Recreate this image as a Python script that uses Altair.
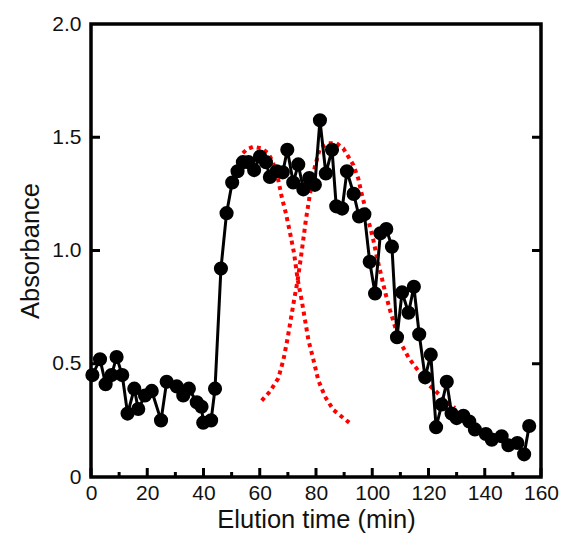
import altair as alt
import pandas as pd

# measured data (Elution time in min, absorbance)
time_min = [0.5, 3.2, 5.2, 7.3, 9.1, 11.1, 13.0, 15.4, 16.8, 19.2, 21.6, 24.9, 26.9, 30.5,
            32.8, 34.8, 37.6, 39.3, 39.9, 42.7, 44.1, 46.2, 48.2, 50.2, 52.1, 54.0, 56.0,
            58.0, 60.1, 62.2, 63.6, 66.0, 68.2, 69.8, 71.9, 73.7, 75.5, 77.6, 79.6, 81.4,
            83.5, 85.7, 87.2, 89.3, 91.0, 93.4, 95.3, 97.2, 99.1, 101.0, 102.9, 105.0,
            107.0, 108.8, 110.6, 112.9, 114.8, 116.7, 118.8, 120.8, 122.7, 124.7, 126.5,
            128.2, 130.0, 132.4, 134.5, 136.5, 140.4, 142.5, 146.0, 148.4, 151.6, 154.0,
            155.8]
absorbance = [0.45, 0.52, 0.41, 0.45, 0.53, 0.45, 0.28, 0.39, 0.30, 0.36, 0.38, 0.25, 0.42, 0.40,
              0.36, 0.39, 0.33, 0.31, 0.24, 0.25, 0.39, 0.92, 1.165, 1.30, 1.35, 1.39, 1.39,
              1.355, 1.415, 1.39, 1.325, 1.35, 1.345, 1.445, 1.30, 1.38, 1.27, 1.32, 1.29, 1.575,
              1.34, 1.445, 1.195, 1.185, 1.35, 1.25, 1.15, 1.16, 0.95, 0.81, 1.076, 1.095,
              1.017, 0.617, 0.815, 0.725, 0.84, 0.63, 0.44, 0.54, 0.22, 0.32, 0.42,
              0.28, 0.26, 0.27, 0.245, 0.21, 0.19, 0.165, 0.18, 0.14, 0.15, 0.10,
              0.225]

# fitted peak 1 (red dotted)
fit1_x = [54.0, 55.5, 57.7, 60.7, 63.0, 64.6, 66.6, 67.8, 69.3, 70.8, 72.2, 73.5, 74.9,
          76.1, 77.3, 79.1, 80.8, 83.2, 86.2, 91.8]
fit1_y = [1.43, 1.448, 1.458, 1.451, 1.429, 1.392, 1.311, 1.237, 1.164, 1.076, 0.988, 0.87,
          0.781, 0.693, 0.605, 0.517, 0.428, 0.355, 0.296, 0.24]

# fitted peak 2 (red dotted)
fit2_x = [60.7, 63.6, 66.6, 68.4, 69.8, 71.0, 72.2, 73.5, 74.5, 75.5, 76.4, 77.9, 79.6, 81.4,
          84.4, 87.3, 89.7, 91.5, 93.3, 95.0, 96.2, 98.0, 99.2, 100.4, 101.6, 103.0, 104.5,
          106.3, 108.1, 110.4, 113.0, 116.0, 119.4, 122.9, 126.5, 129.4]
fit2_y = [0.337, 0.377, 0.436, 0.517, 0.605, 0.693, 0.781, 0.87, 0.958, 1.05, 1.135, 1.253,
          1.37, 1.451, 1.473, 1.473, 1.451, 1.414, 1.377, 1.319, 1.253, 1.164, 1.105, 1.046,
          0.973, 0.90, 0.82, 0.737, 0.664, 0.585, 0.525, 0.475, 0.414, 0.375, 0.33, 0.305]

x_ticks = [0, 20, 40, 60, 80, 100, 120, 140, 160]
x_minor = [10, 30, 50, 70, 90, 110, 130, 150]
y_ticks = [0, 0.5, 1.0, 1.5, 2.0]
y_inner = [0.5, 1.0, 1.5]

W, H = 450, 453
FONT = "Liberation Sans"

df = pd.DataFrame({"t": time_min, "a": absorbance, "i": range(len(time_min))})
f1 = pd.DataFrame({"t": fit1_x, "a": fit1_y, "i": range(len(fit1_x))})
f2 = pd.DataFrame({"t": fit2_x, "a": fit2_y, "i": range(len(fit2_x))})

xs = alt.Scale(domain=[0, 160], nice=False)
ys = alt.Scale(domain=[0, 2], nice=False)

xaxis = alt.Axis(values=x_ticks, ticks=False, domain=False, grid=False, labelFont=FONT,
                 labelFontSize=21, labelColor="#111", labelPadding=5, title="Elution time (min)",
                 titleFont=FONT, titleFontSize=25.5, titleFontWeight="normal", titleColor="#111",
                 titlePadding=4, labelFlush=False)
yaxis = alt.Axis(values=y_ticks, ticks=False, domain=False, grid=False, labelFont=FONT,
                 labelFontSize=21, labelColor="#111", labelPadding=10, title="Absorbance",
                 titleFont=FONT, titleFontSize=25.5, titleFontWeight="normal", titleColor="#111",
                 titlePadding=8, labelFlush=False,
                 labelExpr="datum.value == 0 ? '0' : format(datum.value, '.1f')")

base_x = alt.X("t:Q", scale=xs, axis=xaxis)
base_y = alt.Y("a:Q", scale=ys, axis=yaxis)

fit_style = dict(color="#ff0000", strokeWidth=4, strokeDash=[4, 4], strokeCap="butt")
fit1 = alt.Chart(f1).mark_line(**fit_style).encode(x=base_x, y=base_y, order="i:Q")
fit2 = alt.Chart(f2).mark_line(**fit_style).encode(x="t:Q", y="a:Q", order="i:Q")

line = alt.Chart(df).mark_line(color="black", strokeWidth=3).encode(
    x="t:Q", y="a:Q", order="i:Q")
pts = alt.Chart(df).mark_circle(color="black", opacity=1, size=200).encode(x="t:Q", y="a:Q")

xt = pd.DataFrame({"v": x_ticks})
xm = pd.DataFrame({"v": x_minor})
yt = pd.DataFrame({"v": y_inner})

tick_major_x = alt.Chart(xt).mark_rule(color="black", strokeWidth=3).encode(
    x="v:Q", y=alt.value(H), y2=alt.value(H - 9))
tick_minor_x = alt.Chart(xm).mark_rule(color="black", strokeWidth=3).encode(
    x="v:Q", y=alt.value(H), y2=alt.value(H - 5))
tick_left = alt.Chart(yt).mark_rule(color="black", strokeWidth=3).encode(
    y="v:Q", x=alt.value(0), x2=alt.value(9))
tick_right = alt.Chart(yt).mark_rule(color="black", strokeWidth=3).encode(
    y="v:Q", x=alt.value(W), x2=alt.value(W - 9))

chart = alt.layer(fit1, fit2, line, pts, tick_major_x, tick_minor_x, tick_left, tick_right).properties(
    width=W, height=H,
    background="white",
    autosize=alt.AutoSizeParams(type="none"),
    padding={"left": 91, "top": 24, "right": 25, "bottom": 60},
).configure_view(stroke="black", strokeWidth=3.5)

chart.save("out.html", embed_options={"renderer": "svg", "actions": False})
